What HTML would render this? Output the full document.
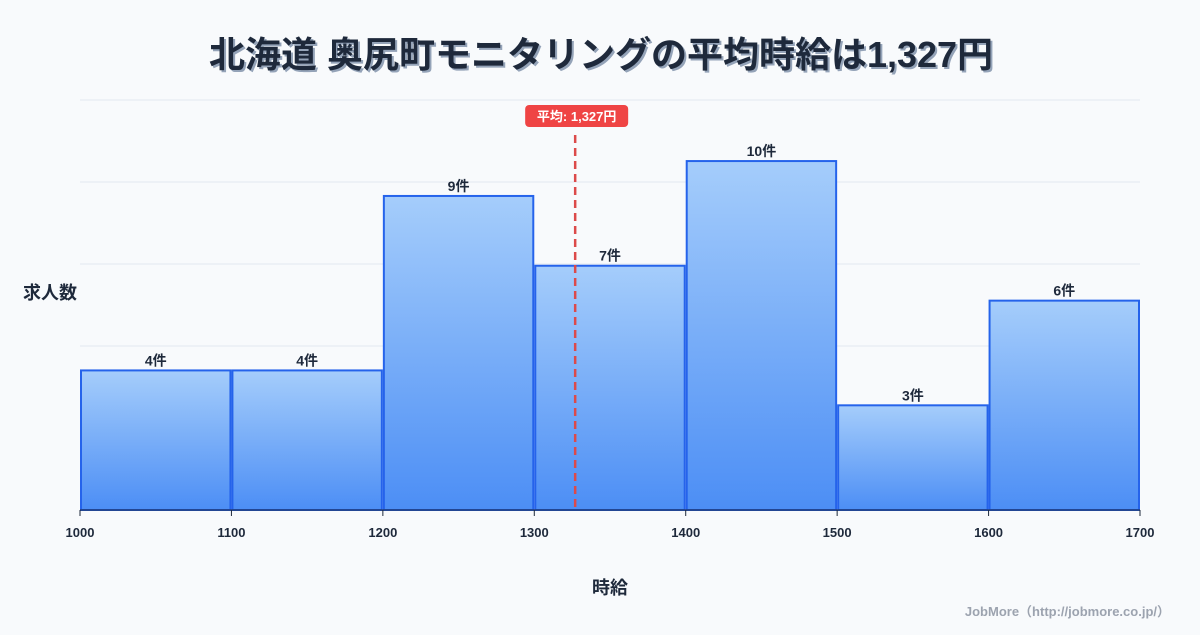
<!DOCTYPE html>
<html><head><meta charset="utf-8"><style>
body{margin:0;background:#f8fafc;font-family:"Liberation Sans","Noto Sans CJK JP",sans-serif;}
svg text{font-family:"Liberation Sans","Noto Sans CJK JP",sans-serif;}
</style></head><body>
<svg id="c" width="1200" height="630">
<defs><linearGradient id="g" x1="0" y1="0" x2="0" y2="1"><stop offset="0" stop-color="#a5cdfb"/><stop offset="1" stop-color="#4c8ef5"/></linearGradient></defs>
<rect width="1200" height="630" fill="#f8fafc"/>
<text x="603" y="69" text-anchor="middle" font-size="36" font-weight="bold" fill="#94a3b8">北海道 奥尻町モニタリングの平均時給は1,327円</text>
<text x="601" y="67" text-anchor="middle" font-size="36" font-weight="bold" fill="#1e293b">北海道 奥尻町モニタリングの平均時給は1,327円</text>
<text x="50" y="299" text-anchor="middle" font-size="18" font-weight="bold" fill="#1e293b">求人数</text>
<text x="610" y="594" text-anchor="middle" font-size="18" font-weight="bold" fill="#1e293b">時給</text>
<text x="1170" y="616" text-anchor="end" font-size="13" font-weight="bold" fill="#9ca3af">JobMore（http://jobmore.co.jp/）</text>
<g id="grid"></g><g id="bars"></g><g id="ticks"></g><g id="mean"></g>
</svg>
<script>
const binStarts=[1000,1100,1200,1300,1400,1500,1600];
const counts=[4,4,9,7,10,3,6];
const tickLabels=[1000,1100,1200,1300,1400,1500,1600,1700];
const meanValue=1327;
const meanLabel="平均: 1,327円";
const NS="http://www.w3.org/2000/svg";
const X0=80,X1=1140,Y0=510,YMAX=11.75,PH=410;
const xs=v=>X0+(v-1000)/700*(X1-X0);
const ys=v=>Y0-v/YMAX*PH;
function mk(t,a,p){const e=document.createElementNS(NS,t);for(const k in a)e.setAttribute(k,a[k]);p.appendChild(e);return e;}
const grid=document.getElementById('grid');
for(let i=1;i<=5;i++){const y=ys(YMAX*i/5);const l=mk('line',{x1:X0,x2:X1,y1:y,y2:y,stroke:'#e2e8f0','stroke-width':1},grid);

}
const bars=document.getElementById('bars');
binStarts.forEach((b,i)=>{const x=xs(b)+1,w=xs(b+100)-xs(b)-2,y=ys(counts[i]);
const r=mk('rect',{x:x,y:y,width:w,height:Y0-y,fill:'url(#g)',stroke:'#2563eb','stroke-width':2},bars);


const t=mk('text',{x:x+w/2,y:y-5,'text-anchor':'middle','font-size':14,'font-weight':'bold',fill:'#1e293b'},bars);t.textContent=counts[i]+'件';

});
const ax=mk('line',{x1:X0,x2:X1,y1:Y0,y2:Y0,stroke:'#1e293b','stroke-width':1},document.getElementById('ticks'));


tickLabels.forEach(v=>{const g=document.getElementById('ticks');
const tl=mk('line',{x1:xs(v),x2:xs(v),y1:Y0,y2:Y0+6,stroke:'#1e293b'},g);


const t=mk('text',{x:xs(v),y:537,'text-anchor':'middle','font-size':13,'font-weight':'bold',fill:'#1e293b'},g);t.textContent=v;

});
const m=document.getElementById('mean');const mx=xs(meanValue);
const ml=mk('line',{x1:mx,x2:mx,y1:135,y2:Y0,stroke:'#dc4a4a','stroke-width':2.5,'stroke-dasharray':'8,5'},m);


const mb=mk('rect',{x:mx-50,y:105,width:103,height:22,rx:4,fill:'#ef4444'},m);


const mt=mk('text',{x:mx+1.5,y:121,'text-anchor':'middle','font-size':13,'font-weight':'bold',fill:'#fff'},m);mt.textContent=meanLabel;


</script>
</body></html>
